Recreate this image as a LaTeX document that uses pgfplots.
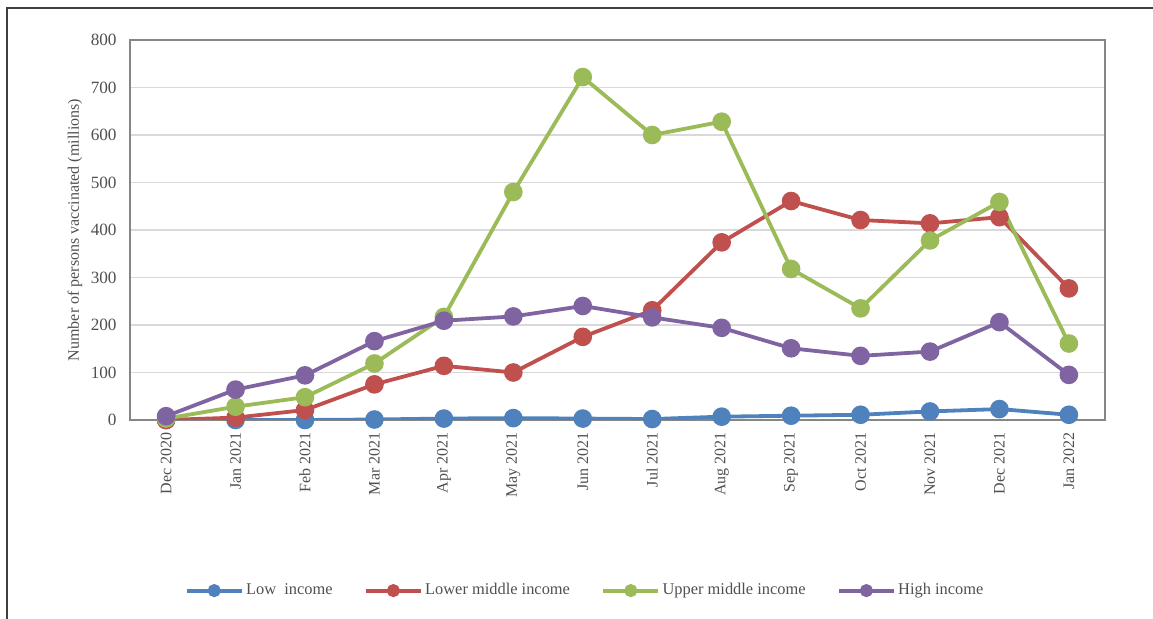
\documentclass[border=0pt]{standalone}
\usepackage{pgfplots}
\pgfplotsset{compat=1.18}
\usepackage{pgfplotstable}
\usepackage{fontspec}
\setmainfont{Liberation Serif}
\definecolor{cLow}{HTML}{4F81BD}
\definecolor{cLM}{HTML}{C0504D}
\definecolor{cUM}{HTML}{9BBB59}
\definecolor{cHigh}{HTML}{8064A2}
\definecolor{txt}{HTML}{505050}
\definecolor{gridc}{HTML}{D9D9D9}
\definecolor{axc}{HTML}{868686}

\pgfplotstableread{
x low lm um high
0 0 0 3 8
1 0 5 28 64
2 0 21 48 94
3 1 75 119 166
4 3 114 217 209
5 4 100 480 218
6 3 175 722 240
7 2 231 600 216
8 7 374 628 194
9 9 461 318 151
10 11 421 235 135
11 18 414 378 144
12 23 427 459 206
13 11 277 161 95
}\data

\begin{document}
\begin{tikzpicture}[x=1pt,y=1pt]
\path[use as bounding box] (0,0) rectangle (576.5,309.5);
\draw[line width=0.7pt, color=black!75] (3.5,-2) -- (3.5,305.5) -- (580,305.5);
\begin{axis}[
  at={(65pt,99.5pt)}, anchor=south west,
  scale only axis, width=487.5pt, height=190pt,
  xmin=-0.52, xmax=13.52, ymin=0, ymax=800,
  xtick={0,...,13},
  xticklabels={Dec 2020,Jan 2021,Feb 2021,Mar 2021,Apr 2021,May 2021,Jun 2021,Jul 2021,Aug 2021,Sep 2021,Oct 2021,Nov 2021,Dec 2021,Jan 2022},
  ytick={0,100,...,800},
  major tick length=0pt,
  ymajorgrids, grid style={color=gridc, line width=0.9pt},
  axis line style={color=axc, line width=0.6pt},
  /pgf/number format/assume math mode=true,
  tick label style={font=\fontsize{8}{9}\selectfont, color=txt, inner sep=0pt},
  yticklabel style={font=\fontsize{8.6}{9}\selectfont},
  xticklabel style={rotate=90, anchor=east},
  xticklabel shift=6pt,
  yticklabel shift=6.5pt,
  ylabel={Number of persons vaccinated (millions)},
  ylabel style={at={(axis description cs:-0.0564,0.5)}, anchor=center, font=\fontsize{8}{9}\selectfont, color=txt},
  every axis plot/.append style={line width=1.9pt, mark=*, mark size=3.7pt},
  legend columns=4,
  legend style={at={(0.467,-0.449)}, anchor=center, draw=none, fill=none,
    font=\fontsize{8.2}{9}\selectfont, text=txt,
    /tikz/every even column/.append style={column sep=14.5pt},
    /tikz/every odd column/.append style={column sep=0pt},
    nodes={inner sep=1.2pt}},
  legend image code/.code={\draw[#1, mark=none, line width=1.9pt] (0pt,0pt) -- (27.5pt,0pt); \fill[#1] (13.75pt,0pt) circle (2.3pt);},
]
\addplot[color=cLow, mark options={fill=cLow, draw=cLow}] table[x=x,y=low] {\data};
\addlegendentry{Low\ \ income}
\addplot[color=cLM, mark options={fill=cLM, draw=cLM}] table[x=x,y=lm] {\data};
\addlegendentry{Lower middle income}
\addplot[color=cUM, mark options={fill=cUM, draw=cUM}] table[x=x,y=um] {\data};
\addlegendentry{Upper middle income}
\addplot[color=cHigh, mark options={fill=cHigh, draw=cHigh}] table[x=x,y=high] {\data};
\addlegendentry{High income}
\end{axis}
\end{tikzpicture}
\end{document}
